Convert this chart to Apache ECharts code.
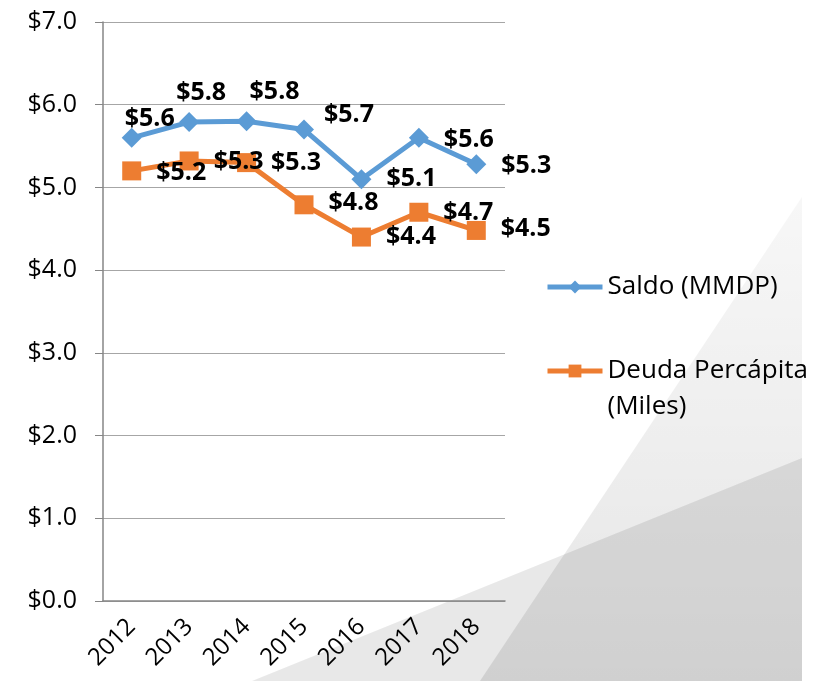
<!DOCTYPE html>
<html>
<head>
<meta charset="utf-8">
<script src="https://cdn.jsdelivr.net/npm/echarts@6/dist/echarts.min.js"></script>
<style>
  html, body { margin: 0; padding: 0; background: #fff; }
  #chart { width: 821px; height: 681px; }
</style>
</head>
<body>
<div id="chart"></div>
<script>
var years = ['2012', '2013', '2014', '2015', '2016', '2017', '2018']
var saldo = [5.6, 5.79, 5.8, 5.7, 5.1, 5.6, 5.28]
var deuda = [5.2, 5.32, 5.3, 4.79, 4.4, 4.7, 4.48]
var yTicks = [0, 1, 2, 3, 4, 5, 6, 7]

// label nudges (styling only), applied to 'right' labels
var saldoOffsets = [[-32, -19], [-38, -29], [-22, -29], [-5, -15], [0, 0], [0, 2], [0, 2]]
var deudaOffsets = [[0, 2], [0, 1], [0, 0], [0, -2], [0, 0], [0, 1], [0, -2]]

var font = 'Open Sans'

function money(v) {
  return '$' + Number(v).toFixed(1)
}

function withOffsets(values, offsets) {
  return values.map(function(v, i) {
    return { value: v, label: { offset: offsets[i] } }
  })
}

var chart = echarts.init(document.getElementById('chart'))
var option = {
  backgroundColor: '#fff',
  animation: false,
  graphic: [
    {
      type: 'polygon',
      z: -10,
      silent: true,
      shape: { points: [[802, 197], [480, 681], [802, 681]] },
      style: {
        fill: new echarts.graphic.LinearGradient(0, 0, 0, 1, [
          { offset: 0, color: 'rgba(0,0,0,0.03)' },
          { offset: 1, color: 'rgba(0,0,0,0.1)' }
        ])
      }
    },
    {
      type: 'polygon',
      z: -10,
      silent: true,
      shape: { points: [[252, 681], [802, 458], [802, 681]] },
      style: { fill: 'rgba(0,0,0,0.09)' }
    }
  ],
  grid: {
    left: 103,
    right: 316,
    top: 22,
    bottom: 80
  },
  legend: {
    orient: 'vertical',
    left: 545,
    top: 269,
    padding: 0,
    itemWidth: 55,
    itemHeight: 16,
    itemGap: 12,
    lineStyle: { width: 5 },
    textStyle: {
      fontFamily: font,
      fontSize: 26,
      color: '#000',
      lineHeight: 36
    },
    formatter: function(name) {
      if (name.indexOf('Deuda') === 0) {
        return '\nDeuda Percápita\n(Miles)'
      }
      return name
    }
  },
  xAxis: {
    type: 'category',
    data: years,
    boundaryGap: true,
    axisLine: { lineStyle: { color: '#868686', width: 1.5 } },
    axisTick: { interval: 0, length: 8, lineStyle: { color: '#868686' } },
    axisLabel: {
      interval: 0,
      rotate: 45,
      margin: 22,
      fontFamily: font,
      fontSize: 24,
      color: '#000'
    }
  },
  yAxis: {
    type: 'value',
    min: yTicks[0],
    max: yTicks[yTicks.length - 1],
    interval: 1,
    axisLine: { show: true, lineStyle: { color: '#868686', width: 1.5 } },
    axisTick: { show: true, length: 8, lineStyle: { color: '#868686' } },
    splitLine: { lineStyle: { color: '#a6a6a6', width: 1 } },
    axisLabel: {
      margin: 26,
      fontFamily: font,
      fontSize: 25,
      color: '#000',
      formatter: money
    }
  },
  series: [
    {
      name: 'Saldo (MMDP)',
      type: 'line',
      data: withOffsets(saldo, saldoOffsets),
      color: '#5b9bd5',
      symbol: 'diamond',
      symbolSize: 20,
      lineStyle: { width: 5 },
      label: {
        show: true,
        position: 'right',
        distance: 15,
        fontFamily: font,
        fontWeight: 'bold',
        fontSize: 25,
        color: '#000',
        formatter: function(p) { return money(p.value) }
      }
    },
    {
      name: 'Deuda Percápita (Miles)',
      type: 'line',
      data: withOffsets(deuda, deudaOffsets),
      color: '#ed7d31',
      symbol: 'rect',
      symbolSize: 19,
      lineStyle: { width: 5 },
      label: {
        show: true,
        position: 'right',
        distance: 15,
        fontFamily: font,
        fontWeight: 'bold',
        fontSize: 25,
        color: '#000',
        formatter: function(p) { return money(p.value) }
      }
    }
  ]
}
chart.setOption(option)
</script>
</body>
</html>
